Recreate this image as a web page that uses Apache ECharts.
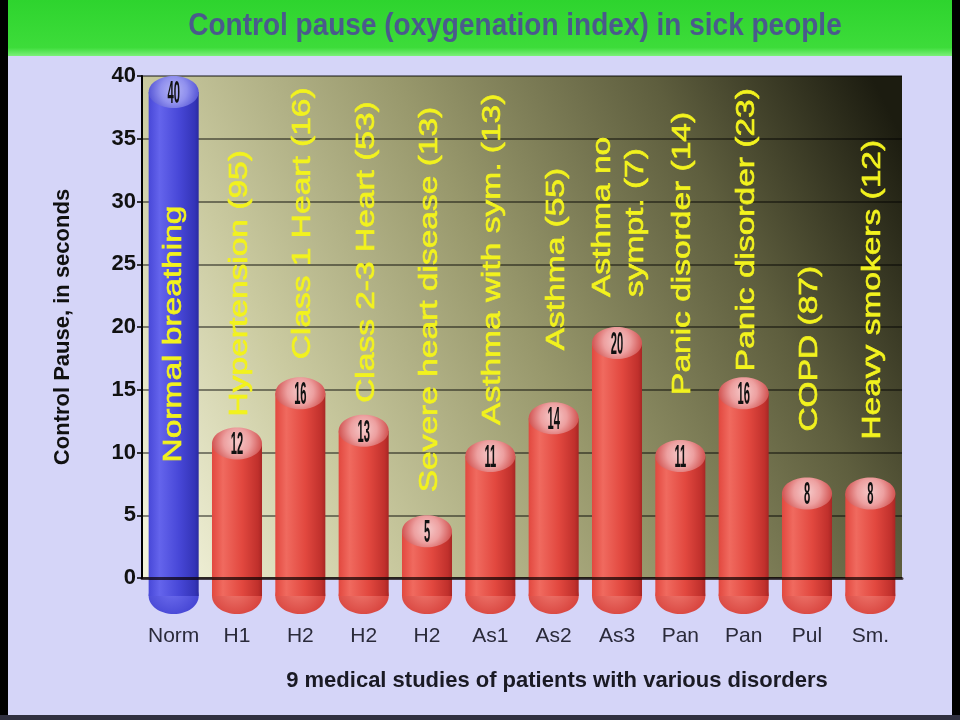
<!DOCTYPE html>
<html><head><meta charset="utf-8">
<script src="https://cdn.jsdelivr.net/npm/echarts@6/dist/echarts.min.js"></script>
<style>html,body{margin:0;padding:0;background:#000;} #c{width:960px;height:720px;}</style>
</head><body><div id="c"></div>
<script>
// ---- data ----
const categories = ['Norm','H1','H2','H2','H2','As1','As2','As3','Pan','Pan','Pul','Sm.'];
const values = [40, 12, 16, 13, 5, 11, 14, 20, 11, 16, 8, 8];
const studyLabels = ['Normal breathing','Hypertension (95)','Class 1 Heart (16)','Class 2-3 Heart (53)',
  'Severe heart disease (13)','Asthma with sym. (13)','Asthma (55)','Asthma no\nsympt. (7)',
  'Panic disorder (14)','Panic disorder (23)','COPD (87)','Heavy smokers (12)'];
const yMin = 0, yMax = 40, yInterval = 5;
const titleText = 'Control pause (oxygenation index) in sick people';
const yName = 'Control Pause, in seconds';
const xName = '9 medical studies of patients with various disorders';

// ---- layout (px) ----
const labelLift = [null, 11, 18, 12, 23, 15, 52, 30, 45, 6, 46, 38]; // gap bar top -> label start; null = centred in bar
const FONT = '"Liberation Sans", Arial, sans-serif';

function bodyGrad(dark, mid, light, edge) {
  return {type:'linear', x:0, y:0, x2:1, y2:0, colorStops:[
    {offset:0, color:mid},{offset:0.22, color:light},{offset:0.6, color:mid},{offset:0.92, color:dark},{offset:1, color:edge}]};
}
const RED = {body: bodyGrad('#c0302c','#e2483f','#f06a5f','#a82624'),
  cap: {type:'radial', x:0.5, y:0.45, r:0.75, colorStops:[{offset:0,color:'#f6caca'},{offset:0.55,color:'#eda0a0'},{offset:1,color:'#d45a58'}]},
  bottom: {type:'radial', x:0.45, y:0.3, r:0.8, colorStops:[{offset:0,color:'#f07a70'},{offset:1,color:'#d8443e'}]}};
const BLUE = {body: bodyGrad('#3434b8','#4848d8','#6464ec','#2a2aa0'),
  cap: {type:'radial', x:0.5, y:0.45, r:0.75, colorStops:[{offset:0,color:'#b4b4f6'},{offset:0.55,color:'#9090ee'},{offset:1,color:'#5c5cd8'}]},
  bottom: {type:'radial', x:0.45, y:0.3, r:0.8, colorStops:[{offset:0,color:'#7070f0'},{offset:1,color:'#4646d4'}]}};

const chart = echarts.init(document.getElementById('c'), null, {renderer:'canvas'});

const option = {
  backgroundColor: '#d5d5f8',
  animation: false,
  grid: {left:142, right:58, top:76, bottom:142, show:true, borderWidth:0,
    backgroundColor: {type:'linear', x:0, y:0.88, x2:1, y2:0.12, colorStops:[
      {offset:0, color:'#f2f2da'},{offset:0.23, color:'#cacaa0'},{offset:0.5, color:'#98986c'},{offset:0.77, color:'#5e5e3e'},{offset:1, color:'#1c1c10'}]}},
  xAxis: {type:'category', data:categories, z:5,
    axisLine:{show:true, lineStyle:{color:'rgba(10,0,0,0.7)', width:3}},
    axisTick:{show:false},
    axisLabel:{interval:0, margin:48, fontSize:21, color:'#2a2a3a', fontFamily:FONT},
    name:xName, nameLocation:'middle', nameGap:92,
    nameTextStyle:{fontSize:22, fontWeight:'bold', color:'#1a1a24', fontFamily:FONT, padding:[0,0,0,70]}},
  yAxis: {type:'value', min:yMin, max:yMax, interval:yInterval,
    axisLine:{show:true, lineStyle:{color:'#000', width:2}},
    axisTick:{show:true, inside:false, length:5, lineStyle:{color:'#000', width:1.5}},
    axisLabel:{margin:6, fontSize:22, fontWeight:'bold', color:'#111', fontFamily:FONT},
    splitLine:{show:true, lineStyle:{color:'rgba(0,0,0,0.6)', width:1.5}},
    name:yName, nameLocation:'middle', nameGap:68,
    nameTextStyle:{fontSize:22, fontWeight:'bold', color:'#111', fontFamily:FONT}},
  graphic: [
    {type:'rect', left:0, top:0, shape:{width:8, height:720}, style:{fill:'#000'}, z:10},
    {type:'rect', left:952, top:0, shape:{width:8, height:720}, style:{fill:'#000'}, z:10},
    {type:'rect', left:0, top:715, shape:{width:960, height:5}, style:{fill:'#303040'}, z:10},
    {type:'rect', left:8, top:0, shape:{width:944, height:56},
      style:{fill:{type:'linear', x:0, y:0, x2:0, y2:1, colorStops:[{offset:0,color:'#2ed42e'},{offset:0.85,color:'#3ddc3a'},{offset:1,color:'#7cf07a'}]}}, z:9},
    {type:'text', x:515, y:26, z:11, scaleY:1.12,
      style:{text:titleText, fill:'#4a5a8c', font:'bold 28px '+FONT, align:'center', verticalAlign:'middle',
        shadowColor:'rgba(0,60,0,0.35)', shadowBlur:2}}
  ],
  series: [{
    type:'custom', clip:false, z:2,
    data: values.map((v,i)=>[i,v]),
    renderItem: function(params, api) {
      const i = api.value(0), v = api.value(1);
      const top = api.coord([i, v]);
      const base = api.coord([i, 0]);
      const w = api.size([1, 0])[0] * 0.79;
      const rx = w/2, ry = 16, cx = top[0];
      const pal = i === 0 ? BLUE : RED;
      const bodyTop = top[1] + ry;
      const bottomY = base[1] + 18;
      const children = [
        {type:'ellipse', shape:{cx:cx, cy:bottomY, rx:rx, ry:18}, style:{fill:pal.bottom}},
        {type:'rect', shape:{x:cx-rx, y:bodyTop, width:w, height:bottomY-bodyTop}, style:{fill:pal.body}},
        {type:'ellipse', shape:{cx:cx, cy:bodyTop, rx:rx, ry:ry}, style:{fill:pal.cap}},
        {type:'text', x:cx, y:top[1]+18, scaleX:0.62, scaleY:1.75,
          style:{text:String(values[i]), fill:'#111', font:'bold 18px '+FONT, align:'center', verticalAlign:'middle'}}
      ];
      const lift = labelLift[i];
      const lbl = {type:'text', rotation:Math.PI/2, scaleX:1.34, scaleY:1,
        style:{text:studyLabels[i], fill:'#f2f21e', font:'25px '+FONT, lineHeight:33, verticalAlign:'middle',
          stroke:'#f2f21e', lineWidth:0.6}};
      if (lift === null) {
        lbl.x = cx; lbl.y = (top[1] + bottomY) / 2 - 2; lbl.style.align = 'center';
      } else {
        lbl.x = cx + 3; lbl.y = top[1] - lift; lbl.style.align = 'left';
      }
      children.push(lbl);
      return {type:'group', children:children};
    }
  }]
};
chart.setOption(option);
</script></body></html>
